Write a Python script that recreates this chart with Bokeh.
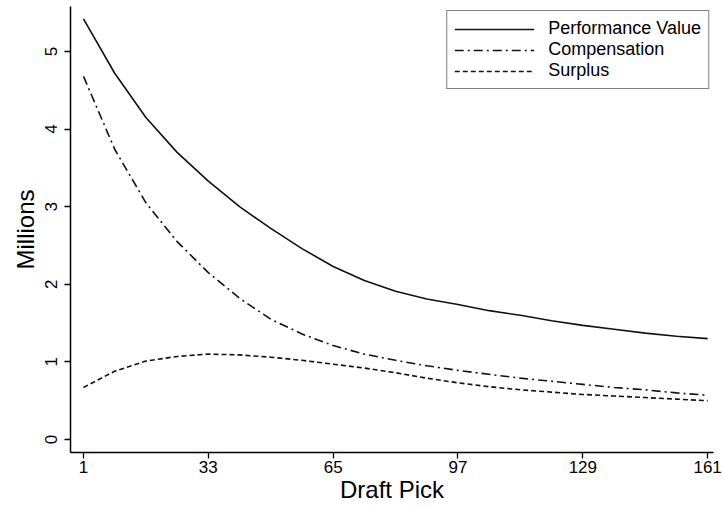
from bokeh.plotting import figure
from bokeh.models import FixedTicker, Range1d, Legend, LegendItem
from bokeh.embed import file_html
from bokeh.resources import INLINE

picks = [1, 9, 17, 25, 33, 41, 49, 57, 65, 73, 81, 89, 97, 105, 113, 121, 129, 137, 145, 153, 161]
performance = [5.42, 4.72, 4.15, 3.70, 3.33, 3.00, 2.72, 2.46, 2.23, 2.05, 1.91, 1.81, 1.74, 1.66, 1.60, 1.53, 1.47, 1.42, 1.37, 1.33, 1.30]
compensation = [4.68, 3.74, 3.05, 2.55, 2.15, 1.82, 1.55, 1.36, 1.21, 1.10, 1.02, 0.95, 0.89, 0.84, 0.79, 0.75, 0.71, 0.67, 0.64, 0.60, 0.57]
surplus = [0.67, 0.88, 1.01, 1.07, 1.10, 1.09, 1.06, 1.02, 0.97, 0.92, 0.86, 0.79, 0.73, 0.68, 0.64, 0.61, 0.58, 0.56, 0.54, 0.52, 0.50]
x_ticks = [1, 33, 65, 97, 129, 161]
y_ticks = [0, 1, 2, 3, 4, 5]
series_names = ["Performance Value", "Compensation", "Surplus"]

FONT = "Liberation Sans"

p = figure(width=723, height=508, output_backend="svg", toolbar_location=None,
           x_range=Range1d(-2.33, 162.5), y_range=Range1d(-0.168, 5.58),
           min_border_left=70, min_border_right=10, min_border_top=6, min_border_bottom=56)
p.outline_line_color = None
p.xgrid.grid_line_color = None
p.ygrid.grid_line_color = None
p.background_fill_color = "white"
p.border_fill_color = "white"

r1 = p.line(picks, performance, line_color="#111111", line_width=1.6)
r2 = p.line(picks, compensation, line_color="#111111", line_width=1.6, line_dash="9 4 2 4")
r3 = p.line(picks, surplus, line_color="#111111", line_width=1.6, line_dash="5 3")

for ax in (p.xaxis[0], p.yaxis[0]):
    ax.axis_line_color = "black"
    ax.axis_line_width = 1.5
    ax.major_tick_line_color = "black"
    ax.major_tick_line_width = 1.3
    ax.major_tick_out = 6
    ax.major_tick_in = 0
    ax.minor_tick_line_color = None
    ax.major_label_text_font = FONT
    ax.major_label_text_font_size = "17px"
    ax.major_label_text_color = "black"
    ax.axis_label_text_font = FONT
    ax.axis_label_text_font_size = "24px"
    ax.axis_label_text_font_style = "normal"
    ax.axis_label_text_color = "black"

p.xaxis[0].ticker = FixedTicker(ticks=x_ticks)
p.yaxis[0].ticker = FixedTicker(ticks=y_ticks)
p.xaxis[0].axis_label = "Draft Pick"
p.yaxis[0].axis_label = "Millions"
p.yaxis[0].major_label_orientation = "vertical"
p.xaxis[0].major_label_standoff = 2
p.xaxis[0].axis_label_standoff = 0
p.yaxis[0].major_label_standoff = 7
p.yaxis[0].axis_label_standoff = 4

legend = Legend(items=[LegendItem(label=series_names[0], renderers=[r1]),
                       LegendItem(label=series_names[1], renderers=[r2]),
                       LegendItem(label=series_names[2], renderers=[r3])],
                location="top_right")
legend.label_text_font = FONT
legend.label_text_font_size = "18px"
legend.label_text_color = "black"
legend.label_height = 18
legend.glyph_width = 80
legend.glyph_height = 18
legend.spacing = 0
legend.padding = 7
legend.margin = 4
legend.label_standoff = 14
legend.border_line_color = "black"
legend.border_line_width = 1.2
legend.background_fill_alpha = 1.0
p.add_layout(legend)

open("out.html", "w").write(file_html(p, INLINE))
